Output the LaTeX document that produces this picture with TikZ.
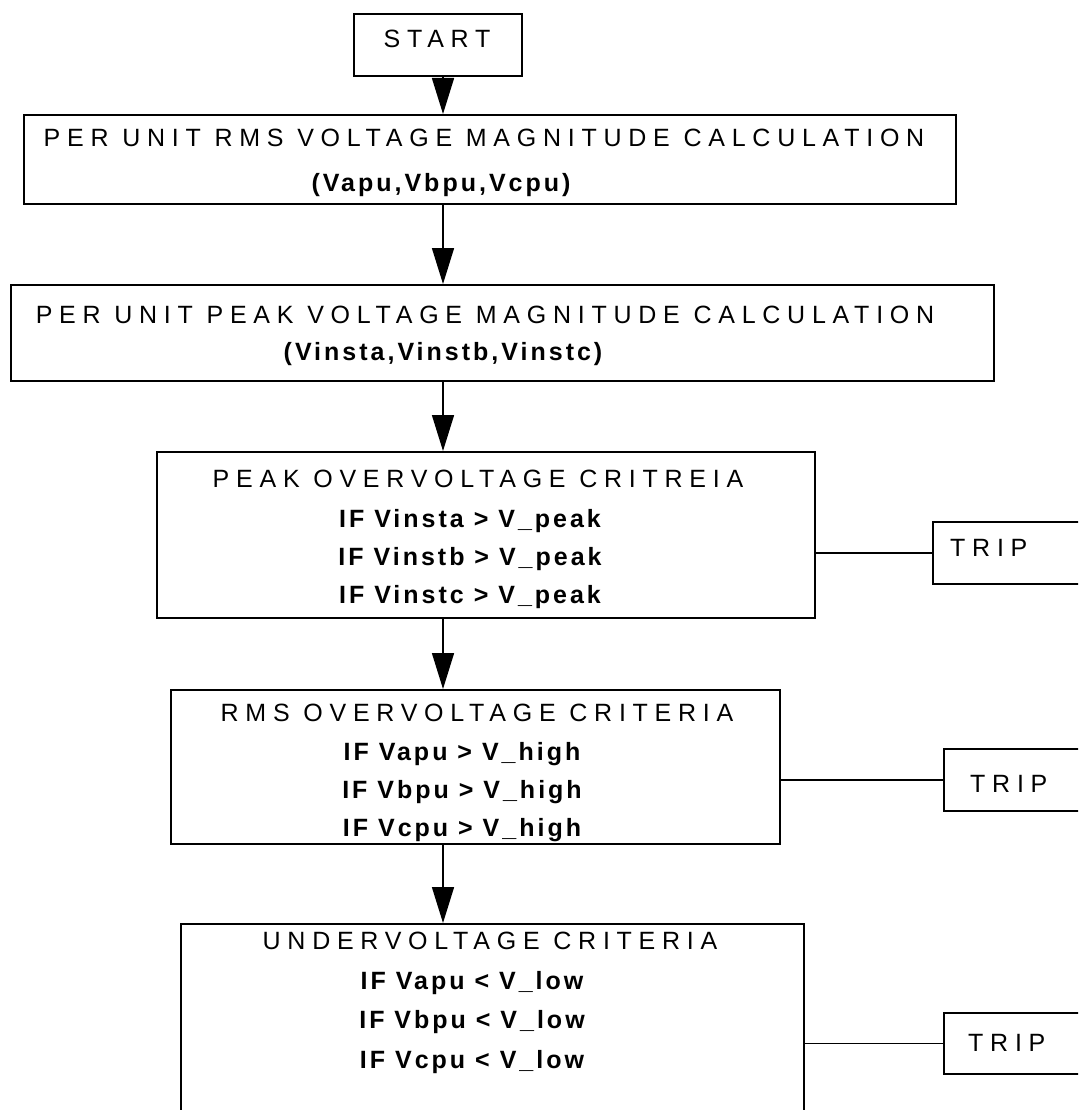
\documentclass[tikz,border=0pt]{standalone}
\usepackage{fontspec}
\setmainfont{Liberation Sans}
\newfontfamily\capsfont[LetterSpace=27]{Liberation Sans}
\newfontfamily\boldfont[LetterSpace=12]{Liberation Sans}
\usetikzlibrary{arrows.meta}

\begin{document}
\begin{tikzpicture}[x=1pt,y=-1pt,
  box/.style={draw, line width=2pt, rectangle, inner sep=0pt, anchor=north west},
  caps/.style={font=\capsfont\fontsize{25}{30}\selectfont, anchor=base, inner sep=0pt},
  cond/.style={font=\boldfont\bfseries\fontsize{25}{30}\selectfont, anchor=base, inner sep=0pt},
  flow/.style={line width=1.6pt, -{Triangle[length=36pt,width=22pt]}},
  link/.style={line width=1.6pt}]
\useasboundingbox (0,0) rectangle (1078,1110);
\clip (0,0) rectangle (1078,1110);

% process boxes
\node[box, minimum width=168pt, minimum height=62pt] (start) at (353,13) {};
\node[box, minimum width=932pt, minimum height=89pt] (rms) at (23,114) {};
\node[box, minimum width=983pt, minimum height=96pt] (peak) at (10,284) {};
\node[box, minimum width=658pt, minimum height=166pt] (peakov) at (156,451) {};
\node[box, minimum width=609pt, minimum height=154pt] (rmsov) at (170,689) {};
\node[box, minimum width=623pt, minimum height=230pt] (under) at (180,923) {};

% trip outputs
\node[box, minimum width=200pt, minimum height=62pt] (trip1) at (932,521) {};
\node[box, minimum width=200pt, minimum height=62pt] (trip2) at (943,748) {};
\node[box, minimum width=200pt, minimum height=61pt] (trip3) at (943,1012) {};

% texts
\node[caps] (tstart) at (437,48) {START};
\node[caps] (trms1) at (484,147) {PER UNIT RMS VOLTAGE MAGNITUDE CALCULATION};
\node[cond] (trms2) at (441,192) {(Vapu,Vbpu,Vcpu)};
\node[caps] (tpeak1) at (485,323) {PER UNIT PEAK VOLTAGE MAGNITUDE CALCULATION};
\node[cond] (tpeak2) at (443,360) {(Vinsta,Vinstb,Vinstc)};

\node[caps] (tpo0) at (478,487) {PEAK OVERVOLTAGE CRITREIA};
\node[cond] (tpo1) at (470,527) {IF Vinsta > V\_peak};
\node[cond] (tpo2) at (470,565) {IF Vinstb > V\_peak};
\node[cond] (tpo3) at (470,603) {IF Vinstc > V\_peak};

\node[caps] (tro0) at (477,721) {RMS OVERVOLTAGE CRITERIA};
\node[cond] (tro1) at (462,760) {IF Vapu > V\_high};
\node[cond] (tro2) at (462,798) {IF Vbpu > V\_high};
\node[cond] (tro3) at (462,836) {IF Vcpu > V\_high};

\node[caps] (tun0) at (490,949) {UNDERVOLTAGE CRITERIA};
\node[cond] (tun1) at (472,989) {IF Vapu < V\_low};
\node[cond] (tun2) at (472,1028) {IF Vbpu < V\_low};
\node[cond] (tun3) at (472,1068) {IF Vcpu < V\_low};

\node[caps, anchor=base west] (ttrip1) at (950,556) {TRIP};
\node[caps, anchor=base west] (ttrip2) at (970,792) {TRIP};
\node[caps, anchor=base west] (ttrip3) at (968,1051) {TRIP};

% main flow
\coordinate (spine) at (443,0);
\draw[flow] (start.south -| spine) -- (rms.north -| spine);
\draw[flow] (rms.south -| spine) -- (peak.north -| spine);
\draw[flow] (peak.south -| spine) -- (peakov.north -| spine);
\draw[flow] (peakov.south -| spine) -- (rmsov.north -| spine);
\draw[flow] (rmsov.south -| spine) -- (under.north -| spine);

% trip links
\draw[link] (trip1.west -| peakov.east) -- (trip1.west);
\draw[link] (trip2.west -| rmsov.east) -- (trip2.west);
\draw[link] (trip3.west -| under.east) -- (trip3.west);
\end{tikzpicture}
\end{document}
